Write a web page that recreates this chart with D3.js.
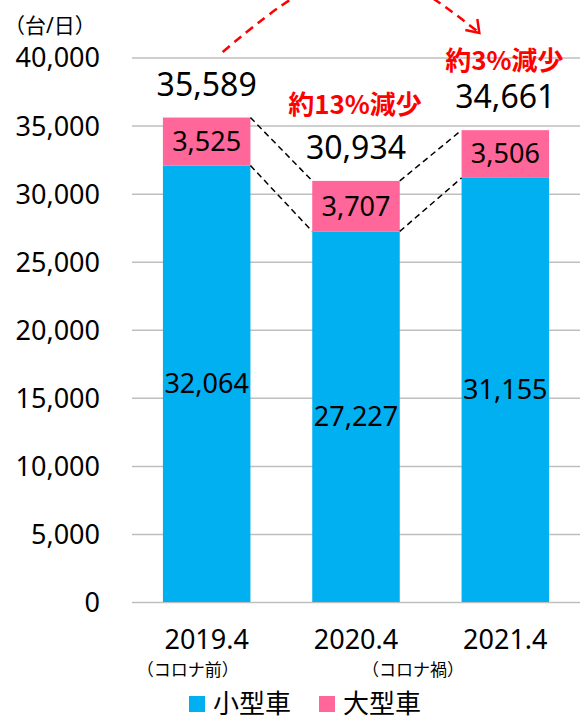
<!DOCTYPE html>
<html>
<head>
<meta charset="utf-8">
<script src="https://cdn.jsdelivr.net/npm/d3@7"></script>
<style>
  body { margin: 0; background: #fff; }
  svg text { font-family: "Noto Sans", "Noto Sans CJK JP", sans-serif; }
</style>
</head>
<body>
<svg id="chart" width="583" height="721"></svg>
<script>
// ---------- データ ----------
const categories = ['2019.4', '2020.4', '2021.4'];
const notes      = ['（コロナ前）', '（コロナ禍）', ''];
const small      = [32064, 27227, 31155];   // 小型車
const large      = [3525, 3707, 3506];      // 大型車
const yTicks     = [0, 5000, 10000, 15000, 20000, 25000, 30000, 35000, 40000];
const changes    = [null, '約13%減少', '約3%減少'];
const seriesNames = ['小型車', '大型車'];
const colors      = ['#00B0F0', '#FF6699'];

const rows = categories.map((c, i) => ({
  cat: c, note: notes[i], small: small[i], large: large[i],
  total: small[i] + large[i], change: changes[i]
}));

// ---------- スケール ----------
const svg = d3.select('#chart');
const plotL = 132, plotR = 580, plotT = 57.5, plotB = 602;

const x = d3.scaleBand()
  .domain(categories)
  .range([plotL, plotR])
  .paddingInner(0.414)
  .paddingOuter(0.207);

const y = d3.scaleLinear().domain([0, 40000]).range([plotB, plotT]);
const fmt = d3.format(',');
const bw = x.bandwidth();
const cx = d => x(d.cat) + bw / 2;

// ---------- 軸・グリッド ----------
const yAxis = svg.append('g')
  .attr('transform', `translate(${plotL},0)`)
  .call(d3.axisLeft(y).tickValues(yTicks).tickFormat(fmt)
    .tickSize(-(plotR - plotL)).tickPadding(32));
yAxis.select('.domain').remove();
yAxis.selectAll('line').attr('stroke', '#BFBFBF').attr('stroke-width', 1.5);
yAxis.selectAll('text')
  .attr('fill', '#000').style('font-size', '27px').attr('dy', '0.35em');

svg.append('text')
  .attr('x', 4).attr('y', 33)
  .style('font-size', '21px')
  .text('（台/日）');

const xAxis = svg.append('g')
  .attr('transform', `translate(0,${plotB})`)
  .call(d3.axisBottom(x).tickSize(0).tickPadding(28));
xAxis.select('.domain').remove();
xAxis.selectAll('text').attr('fill', '#000').style('font-size', '27px');

// 注記（コロナ前／コロナ禍）はラベルから少しずれた位置
const noteShift = [-19, 57, 0];
svg.selectAll('text.note')
  .data(rows)
  .join('text')
  .attr('class', 'note')
  .attr('x', (d, i) => cx(d) + noteShift[i])
  .attr('y', 676)
  .attr('text-anchor', 'middle')
  .style('font-size', '17px')
  .style('font-family', '"Noto Sans CJK JP", sans-serif')
  .text(d => d.note);

// ---------- 棒 ----------
svg.selectAll('rect.small')
  .data(rows).join('rect')
  .attr('class', 'small')
  .attr('x', d => x(d.cat)).attr('width', bw)
  .attr('y', d => y(d.small)).attr('height', d => y(0) - y(d.small))
  .attr('fill', colors[0]);

svg.selectAll('rect.large')
  .data(rows).join('rect')
  .attr('class', 'large')
  .attr('x', d => x(d.cat)).attr('width', bw)
  .attr('y', d => y(d.total)).attr('height', d => y(d.small) - y(d.total))
  .attr('fill', colors[1]);

// ---------- 破線（棒の間） ----------
const links = [];
for (let i = 0; i < rows.length - 1; i++) {
  ['total', 'small'].forEach(k => links.push({ a: rows[i], b: rows[i + 1], k }));
}
svg.selectAll('line.link')
  .data(links).join('line')
  .attr('class', 'link')
  .attr('x1', d => x(d.a.cat) + bw).attr('y1', d => y(d.a[d.k]))
  .attr('x2', d => x(d.b.cat)).attr('y2', d => y(d.b[d.k]))
  .attr('stroke', '#000').attr('stroke-width', 1.5)
  .attr('stroke-dasharray', '6,4');

// ---------- ラベル ----------
svg.selectAll('text.smallLbl')
  .data(rows).join('text')
  .attr('class', 'smallLbl')
  .attr('x', cx).attr('y', d => (y(d.small) + y(0)) / 2)
  .attr('dy', '0.35em').attr('text-anchor', 'middle')
  .style('font-size', '27px')
  .text(d => fmt(d.small));

svg.selectAll('text.largeLbl')
  .data(rows).join('text')
  .attr('class', 'largeLbl')
  .attr('x', cx).attr('y', d => (y(d.total) + y(d.small)) / 2)
  .attr('dy', '0.35em').attr('text-anchor', 'middle')
  .style('font-size', '27px')
  .text(d => fmt(d.large));

svg.selectAll('text.totalLbl')
  .data(rows).join('text')
  .attr('class', 'totalLbl')
  .attr('x', cx).attr('y', d => y(d.total) - 22)
  .attr('text-anchor', 'middle')
  .style('font-size', '32px')
  .text(d => fmt(d.total));

// 減少率（赤字）
const changeY = [0, 114, 70];
svg.selectAll('text.change')
  .data(rows.filter(d => d.change)).join('text')
  .attr('class', 'change')
  .attr('x', d => cx(d) - 1)
  .attr('y', d => changeY[categories.indexOf(d.cat)])
  .attr('text-anchor', 'middle')
  .attr('fill', '#FF0000')
  .style('font-size', '26px').style('font-weight', 'bold')
  .style('font-family', '"Noto Sans CJK JP", sans-serif')
  .text(d => d.change);

// 赤い破線の矢印（2019 → 2021）
const p0 = [x(categories[0]) + bw / 2 + 16, 52];
const p3 = [x(categories[2]) + bw / 2 - 26, 33];
svg.append('path')
  .attr('d', `M${p0[0]},${p0[1]} C${p0[0] + 122},${p0[1] - 104} ${p3[0] - 102},${p3[1] - 82} ${p3[0]},${p3[1]}`)
  .attr('fill', 'none').attr('stroke', '#FF0000')
  .attr('stroke-width', 2.5).attr('stroke-dasharray', '9,6');
svg.append('path')
  .attr('d', `M${p3[0] - 14},${p3[1] - 3} L${p3[0]},${p3[1]} L${p3[0] - 2},${p3[1] - 14}`)
  .attr('fill', 'none').attr('stroke', '#FF0000').attr('stroke-width', 2.5);

// ---------- 凡例 ----------
const legendX = [189, 319];
const lg = svg.selectAll('g.legend')
  .data(seriesNames).join('g')
  .attr('class', 'legend')
  .attr('transform', (d, i) => `translate(${legendX[i]},696)`);
lg.append('rect').attr('width', 16).attr('height', 16).attr('fill', (d, i) => colors[i]);
lg.append('text').attr('x', 24).attr('y', 17)
  .style('font-size', '26px')
  .style('font-family', '"Noto Sans CJK JP", sans-serif')
  .text(d => d);
</script>
</body>
</html>
